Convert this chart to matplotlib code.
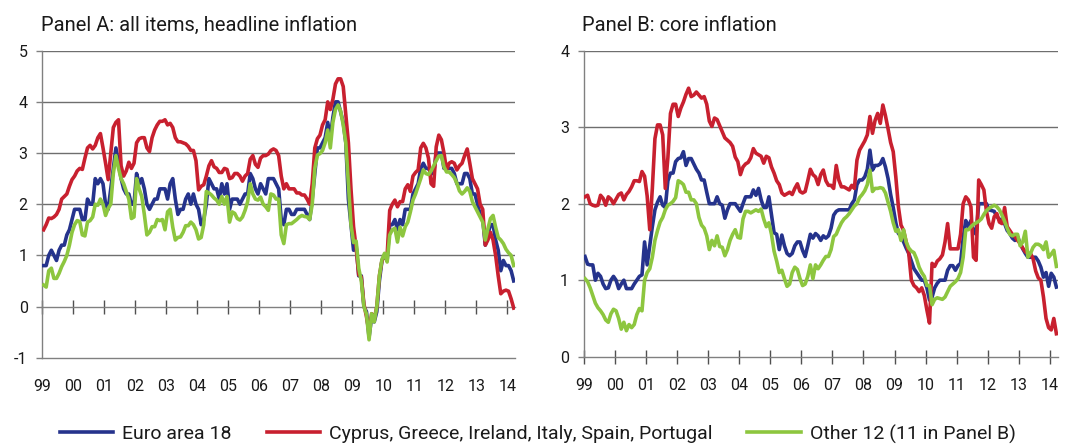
import numpy as np
import matplotlib
matplotlib.use("Agg")
import matplotlib.pyplot as plt

# ---------------- data (monthly, Jan 1999 - Mar 2014) ----------------
start_year = 1999
year_ticks = list(range(1999, 2015))
year_labels = ["99", "00", "01", "02", "03", "04", "05", "06", "07",
               "08", "09", "10", "11", "12", "13", "14"]

# Panel A: headline inflation
a_euro = [0.8, 0.8, 1.0, 1.1, 1.0, 0.9, 1.1, 1.2, 1.2, 1.4, 1.5, 1.7,
          1.9, 1.9, 1.9, 1.7, 1.7, 2.1, 2.0, 2.0, 2.5, 2.4, 2.5, 2.4,
          2.0, 1.9, 2.3, 2.7, 3.1, 2.8, 2.5, 2.3, 2.2, 2.2, 2.0, 2.0,
          2.6, 2.4, 2.5, 2.3, 2.0, 1.9, 2.0, 2.1, 2.1, 2.3, 2.3, 2.3,
          2.1, 2.4, 2.5, 2.1, 1.8, 1.9, 1.9, 2.1, 2.2, 2.0, 2.2, 2.0,
          1.9, 1.6, 1.7, 2.0, 2.5, 2.4, 2.3, 2.3, 2.1, 2.4, 2.2, 2.4,
          1.9, 2.1, 2.1, 2.1, 2.0, 2.1, 2.2, 2.2, 2.6, 2.5, 2.3, 2.2,
          2.4, 2.3, 2.2, 2.5, 2.5, 2.5, 2.4, 2.3, 1.7, 1.6, 1.9, 1.9,
          1.8, 1.8, 1.9, 1.9, 1.9, 1.9, 1.8, 1.7, 2.1, 2.6, 3.1, 3.1,
          3.2, 3.3, 3.6, 3.3, 3.7, 4.0, 4.0, 3.8, 3.6, 3.2, 2.1, 1.6,
          1.1, 1.2, 0.6, 0.6, 0.0, -0.1, -0.6, -0.2, -0.3, -0.1, 0.5, 0.9,
          1.0, 0.9, 1.6, 1.6, 1.7, 1.5, 1.7, 1.6, 1.9, 1.9, 1.9, 2.2,
          2.3, 2.4, 2.7, 2.8, 2.7, 2.7, 2.6, 2.6, 3.0, 3.0, 3.0, 2.7,
          2.7, 2.7, 2.7, 2.6, 2.4, 2.4, 2.4, 2.6, 2.6, 2.5, 2.2, 2.2,
          2.0, 1.8, 1.7, 1.2, 1.4, 1.6, 1.6, 1.3, 1.1, 0.7, 0.9, 0.8,
          0.8, 0.7, 0.5]

a_stressed = [1.5, 1.6, 1.73, 1.72, 1.75, 1.8, 1.9, 2.1, 2.15, 2.2, 2.35, 2.48,
              2.55, 2.65, 2.7, 2.68, 2.9, 3.1, 3.15, 3.08, 3.15, 3.3, 3.38, 3.1,
              2.8, 2.48, 3.0, 3.5, 3.6, 3.65, 2.75, 2.55, 2.65, 2.82, 2.7, 2.8,
              3.2, 3.28, 3.3, 3.3, 3.1, 3.03, 3.3, 3.45, 3.55, 3.62, 3.62, 3.65,
              3.55, 3.58, 3.5, 3.3, 3.22, 3.22, 3.2, 3.18, 3.13, 3.05, 3.05, 2.85,
              2.28, 2.35, 2.38, 2.55, 2.75, 2.85, 2.73, 2.7, 2.62, 2.62, 2.7, 2.68,
              2.5, 2.52, 2.6, 2.6, 2.55, 2.45, 2.55, 2.6, 2.88, 2.95, 2.78, 2.72,
              2.9, 2.95, 2.95, 2.98, 3.05, 3.08, 3.05, 2.95, 2.55, 2.3, 2.4, 2.3,
              2.3, 2.3, 2.22, 2.22, 2.18, 2.18, 2.1, 2.0, 2.4, 3.1, 3.28, 3.35,
              3.55, 3.65, 4.0, 3.85, 4.05, 4.35, 4.45, 4.45, 4.3, 3.75, 3.2, 2.3,
              1.56, 1.15, 0.62, 0.58, 0.05, -0.2, -0.5, -0.14, -0.25, 0.0, 0.6, 0.9,
              1.0, 1.0, 1.88, 2.0, 2.08, 1.95, 2.05, 2.05, 2.3, 2.38, 2.25, 2.55,
              2.62, 2.67, 3.1, 3.19, 3.1, 2.9, 2.4, 2.35, 3.12, 3.35, 3.26, 3.0,
              2.67, 2.8, 2.83, 2.8, 2.67, 2.75, 2.8, 2.95, 3.08, 2.8, 2.5, 2.4,
              2.3, 2.0, 1.9, 1.2, 1.3, 1.45, 1.3, 1.0, 0.6, 0.25, 0.3, 0.32,
              0.3, 0.15, -0.03]

a_other = [0.42, 0.38, 0.7, 0.75, 0.55, 0.55, 0.65, 0.78, 0.88, 1.0, 1.2, 1.45,
           1.6, 1.68, 1.66, 1.4, 1.38, 1.65, 1.68, 1.75, 2.0, 1.98, 2.1, 2.0,
           1.78, 1.92, 2.0, 2.6, 2.95, 2.7, 2.5, 2.4, 2.25, 2.1, 1.72, 1.75,
           2.5, 2.3, 2.15, 1.8, 1.4, 1.45, 1.56, 1.56, 1.7, 1.68, 1.7, 1.5,
           1.85, 1.9, 1.55, 1.3, 1.35, 1.36, 1.45, 1.58, 1.58, 1.65, 1.6, 1.5,
           1.32, 1.35, 1.6, 2.25, 2.22, 2.18, 2.12, 2.08, 2.0, 2.15, 2.0, 2.15,
           1.65, 1.85, 1.82, 1.72, 1.69, 1.75, 1.88, 2.05, 2.4, 2.2, 2.1, 2.08,
           2.14, 2.0, 1.95, 1.88, 2.2, 2.18, 2.1, 2.1, 1.4, 1.23, 1.6, 1.62,
           1.62, 1.66, 1.7, 1.75, 1.78, 1.76, 1.75, 1.7, 2.0, 2.7, 2.96, 2.99,
           3.05, 3.2, 3.45, 3.1, 3.6, 3.85, 3.94, 3.82, 3.55, 3.2, 2.4, 1.6,
           1.25, 1.28, 0.75, 0.5, 0.0, -0.15, -0.65, -0.14, -0.3, 0.0, 0.6, 0.92,
           1.04, 0.87, 1.4, 1.5, 1.53, 1.26, 1.55, 1.38, 1.56, 1.65, 1.85, 2.08,
           2.2, 2.35, 2.5, 2.67, 2.6, 2.58, 2.65, 2.75, 2.85, 2.94, 2.95, 2.73,
           2.63, 2.63, 2.58, 2.52, 2.41, 2.26, 2.2, 2.25, 2.32, 2.25, 2.05, 1.95,
           1.85, 1.75, 1.65, 1.3, 1.52, 1.72, 1.78, 1.55, 1.35, 1.3, 1.23, 1.12,
           1.05, 1.0, 0.8]

# Panel B: core inflation
b_euro = [1.31, 1.21, 1.2, 1.2, 1.0, 1.09, 1.05, 0.95, 0.89, 0.9, 1.0, 1.05,
          1.0, 0.89, 0.95, 1.0, 0.89, 0.89, 0.89, 0.95, 1.0, 1.05, 1.07, 1.5,
          1.2, 1.45, 1.7, 1.92, 2.02, 2.09, 1.98, 1.95, 2.3, 2.4, 2.4, 2.55,
          2.59, 2.6, 2.68, 2.5, 2.59, 2.59, 2.52, 2.45, 2.4, 2.31, 2.31, 2.15,
          2.0, 2.0, 2.0, 2.09, 2.0, 1.98, 1.81, 1.92, 2.0, 2.0, 2.0, 1.95,
          1.9, 2.0, 2.09, 2.09, 2.09, 2.18, 2.11, 2.2, 2.05, 1.95, 1.95, 2.09,
          1.85, 1.62, 1.6, 1.4, 1.59, 1.45, 1.35, 1.32, 1.35, 1.45, 1.5, 1.5,
          1.39, 1.31, 1.45, 1.6, 1.55, 1.61, 1.58, 1.52, 1.58, 1.55, 1.58, 1.68,
          1.85, 1.9, 1.92, 1.92, 1.92, 1.92, 1.92, 2.0, 2.05, 2.25, 2.31, 2.31,
          2.35, 2.45, 2.7, 2.44, 2.5, 2.5, 2.52, 2.59, 2.48, 2.33, 2.12, 1.95,
          1.75, 1.61, 1.58, 1.5, 1.42, 1.35, 1.25, 1.15, 1.1, 1.05, 1.0, 1.0,
          0.9, 0.74, 0.78, 0.9, 0.96, 1.0, 1.0, 1.0, 1.13, 1.19, 1.19, 1.13,
          1.19, 1.22, 1.55, 1.78, 1.7, 1.78, 1.65, 1.6, 2.0, 2.0, 2.0, 2.0,
          1.92, 1.91, 1.9, 1.83, 1.8, 1.76, 1.74, 1.65, 1.61, 1.55, 1.52, 1.57,
          1.48, 1.41, 1.35, 1.3, 1.3, 1.3, 1.3, 1.25, 1.17, 1.04, 1.1, 0.92,
          1.09, 1.04, 0.91]

b_stressed = [2.09, 2.11, 2.0, 1.98, 1.97, 1.98, 2.11, 2.07, 1.98, 2.09, 2.06, 2.0,
              2.06, 2.12, 2.14, 2.05, 2.12, 2.16, 2.22, 2.3, 2.3, 2.29, 2.42, 2.36,
              2.1, 1.66, 2.2, 2.85, 3.03, 3.03, 2.9, 2.2, 2.6, 3.18, 3.3, 3.3,
              3.14, 3.25, 3.33, 3.43, 3.51, 3.4, 3.42, 3.46, 3.42, 3.38, 3.4, 3.3,
              3.08, 3.01, 3.12, 3.1, 3.02, 2.94, 2.86, 2.83, 2.8, 2.75, 2.61, 2.55,
              2.38, 2.48, 2.52, 2.54, 2.6, 2.72, 2.66, 2.64, 2.62, 2.53, 2.62, 2.6,
              2.48, 2.4, 2.3, 2.25, 2.14, 2.11, 2.13, 2.15, 2.12, 2.2, 2.26, 2.16,
              2.14, 2.16, 2.3, 2.45, 2.38, 2.35, 2.25, 2.38, 2.44, 2.3, 2.24, 2.24,
              2.2, 2.5, 2.31, 2.22, 2.22, 2.2, 2.18, 2.24, 2.2, 2.57, 2.7, 2.76,
              2.82, 2.9, 3.14, 2.92, 3.09, 3.18, 3.05, 3.29, 3.15, 2.98, 2.8, 2.68,
              2.35, 1.96, 1.72, 1.65, 1.5, 1.35, 1.0, 0.93, 0.9, 0.85, 0.9, 0.8,
              0.61, 0.44, 1.22, 1.18, 1.25, 1.28, 1.33, 1.5, 1.74, 1.41, 1.41, 1.41,
              1.41, 1.6, 2.0, 2.09, 2.05, 1.96, 1.3, 1.26, 2.31, 2.25, 2.18, 1.9,
              1.74, 1.68, 1.83, 1.87, 1.76, 1.74, 1.95, 1.7, 1.65, 1.6, 1.57, 1.52,
              1.48, 1.42, 1.37, 1.35, 1.35, 1.28, 1.12, 1.03, 1.0, 0.78, 0.5, 0.38,
              0.35, 0.5, 0.3]

b_other = [1.02, 0.98, 0.9, 0.8, 0.7, 0.64, 0.6, 0.55, 0.48, 0.45, 0.56, 0.62,
           0.6, 0.5, 0.36, 0.45, 0.34, 0.42, 0.38, 0.42, 0.55, 0.63, 0.6, 1.0,
           1.1, 1.15, 1.3, 1.52, 1.65, 1.76, 1.82, 1.92, 1.98, 2.0, 2.03, 2.08,
           2.3, 2.28, 2.25, 2.15, 2.15, 2.05, 2.05, 2.0, 1.82, 1.72, 1.68, 1.58,
           1.4, 1.52, 1.45, 1.58, 1.44, 1.43, 1.32, 1.4, 1.52, 1.6, 1.66, 1.56,
           1.55, 1.8, 1.9, 1.9, 1.88, 1.9, 1.92, 1.9, 1.93, 1.8, 1.7, 1.75,
           1.6, 1.38, 1.25, 1.1, 1.13, 1.02, 0.92, 0.95, 1.1, 1.17, 1.14, 1.02,
           0.93, 0.95, 1.05, 1.2, 1.02, 1.2, 1.15, 1.2, 1.26, 1.31, 1.31, 1.4,
           1.57, 1.6, 1.68, 1.75, 1.8, 1.83, 1.87, 1.92, 1.97, 2.0, 2.08, 2.12,
           2.17, 2.25, 2.44, 2.16, 2.2, 2.2, 2.21, 2.2, 2.14, 2.02, 1.9, 1.75,
           1.64, 1.66, 1.52, 1.66, 1.5, 1.42, 1.38, 1.36, 1.28, 1.17, 1.1, 1.05,
           0.93, 0.93, 0.68, 0.75, 0.77, 0.76, 0.75, 0.78, 0.85, 0.92, 0.95, 0.98,
           1.02, 1.1, 1.3, 1.66, 1.66, 1.7, 1.73, 1.75, 1.77, 1.8, 1.86, 1.91,
           1.94, 1.96, 1.98, 1.96, 1.92, 1.85, 1.77, 1.68, 1.6, 1.58, 1.6, 1.6,
           1.45, 1.5, 1.64, 1.3, 1.35, 1.43, 1.47, 1.47, 1.45, 1.4, 1.5, 1.3,
           1.34, 1.39, 1.18]

series_names = ["Euro area 18",
                "Cyprus, Greece, Ireland, Italy, Spain, Portugal",
                "Other 12 (11 in Panel B)"]
panel_titles = ["Panel A: all items, headline inflation", "Panel B: core inflation"]

# ---------------- style ----------------
C_BLUE = "#25338C"
C_RED = "#C8202F"
C_GREEN = "#8DC63F"
GRID = "#6e6e6e"
AX = "#808080"
TXT = "#1a1a1a"
LW = 2.6

TICK_FONT = ["Roboto", "DejaVu Sans"]
TEXT_FONT = ["Roboto", "DejaVu Sans"]

fig = plt.figure(figsize=(10.69, 4.46), dpi=100)
W, H = 1069.0, 446.0


def rect(x0, y0, x1, y1):
    return [x0 / W, 1 - y1 / H, (x1 - x0) / W, (y1 - y0) / H]


axA = fig.add_axes(rect(42.3, 50.7, 515.0, 357.7))
axB = fig.add_axes(rect(583.7, 50.7, 1057.7, 356.7))


def months_x(n):
    return start_year + (np.arange(n) + 0.5) / 12.0


def style_axis(ax, ymin, ymax, zero_axis):
    ax.set_xlim(1999, 2014.25)
    ax.set_ylim(ymin, ymax)
    for s in ["top", "right"]:
        ax.spines[s].set_visible(False)
    ax.spines["left"].set_color(AX)
    ax.spines["left"].set_linewidth(1.0)
    yt = list(range(ymin, ymax + 1))
    ax.set_yticks(yt)
    ax.set_yticklabels([str(v) for v in yt], fontfamily=TICK_FONT, fontsize=11.5, color=TXT)
    ax.tick_params(axis="y", direction="out", length=4.5, width=1.0, color=AX, pad=6)
    for v in yt:
        if v > ymin and v != 0:
            ax.axhline(v, color=GRID, lw=1.0, zorder=1)
    ax.set_xticks(year_ticks)
    if zero_axis:
        # tick marks on the zero line, labels at the bottom
        ax.spines["bottom"].set_position(("data", 0))
        ax.spines["bottom"].set_color(AX)
        ax.spines["bottom"].set_linewidth(1.0)
        ax.tick_params(axis="x", direction="inout", length=10, width=1.0, color="#505050",
                       labelbottom=False)
        sec = ax.secondary_xaxis("bottom")
        sec.set_xticks(year_ticks)
        sec.set_xticklabels(year_labels, fontfamily=TICK_FONT, fontsize=11.5, color=TXT)
        sec.tick_params(axis="x", length=0, pad=15)
        sec.spines["bottom"].set_color(AX)
        sec.spines["bottom"].set_linewidth(1.0)
    else:
        ax.spines["bottom"].set_color(AX)
        ax.spines["bottom"].set_linewidth(1.0)
        ax.set_xticklabels(year_labels, fontfamily=TICK_FONT, fontsize=11.5, color=TXT)
        ax.tick_params(axis="x", direction="inout", length=10, width=1.0, color="#505050", pad=10)


style_axis(axA, -1, 5, True)
style_axis(axB, 0, 4, False)

handles = []
for ax, data in [(axA, (a_euro, a_stressed, a_other)), (axB, (b_euro, b_stressed, b_other))]:
    e, s, o = data
    h1, = ax.plot(months_x(len(e)), e, color=C_BLUE, lw=LW, zorder=3, solid_joinstyle="round")
    h2, = ax.plot(months_x(len(s)), s, color=C_RED, lw=LW, zorder=4, solid_joinstyle="round")
    h3, = ax.plot(months_x(len(o)), o, color=C_GREEN, lw=LW, zorder=5, solid_joinstyle="round")
    handles = [h1, h2, h3]

for ax, t in [(axA, panel_titles[0]), (axB, panel_titles[1])]:
    ax.annotate(t, xy=(0, 1), xycoords="axes fraction", xytext=(-1, 14), textcoords="offset points",
                ha="left", va="baseline", fontsize=14.5, fontfamily=TEXT_FONT, color=TXT)

leg = fig.legend(handles, series_names, loc="center", bbox_to_anchor=(0.503, 0.027), ncol=3,
                 frameon=False, handlelength=2.75, handletextpad=0.45, columnspacing=1.8,
                 prop={"family": TEXT_FONT, "size": 14})
for t in leg.get_texts():
    t.set_color(TXT)

fig.savefig("out.png", dpi=100)
